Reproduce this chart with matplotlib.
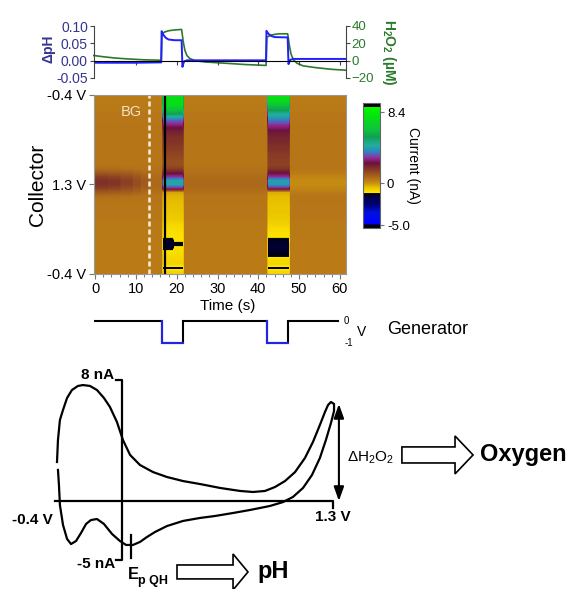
import numpy as np
import matplotlib
matplotlib.use('Agg')
import matplotlib.pyplot as plt
from matplotlib.colors import LinearSegmentedColormap
from matplotlib.patches import FancyArrow
from matplotlib.ticker import MultipleLocator

plt.rcParams['font.family'] = ['Liberation Sans', 'DejaVu Sans']
plt.rcParams['mathtext.fontset'] = 'custom'
plt.rcParams['mathtext.rm'] = 'Liberation Sans'
plt.rcParams['mathtext.it'] = 'Liberation Sans:italic'
plt.rcParams['mathtext.bf'] = 'Liberation Sans:bold'

W, H = 576, 589

# ---- top trace: pH change (left) and H2O2 (right) ----
ph_t = [-0.4, 5, 10, 16.2, 16.3, 16.7, 17.3, 18.0, 19.5, 21.2, 21.4, 21.8, 22.5, 30, 41.9,
        42.0, 42.4, 43.0, 44.0, 47.2, 47.4, 47.8, 48.5, 55, 61.5]
ph_v = [-0.006, -0.006, -0.006, -0.005, 0.085, 0.075, 0.066, 0.061, 0.059, 0.059, -0.018, -0.002,
        0.001, 0.001, 0.001, 0.086, 0.079, 0.072, 0.068, 0.067, -0.010, 0.002, 0.005, 0.005, 0.005]
h2o2_t = [-0.4, 2, 5, 8, 12, 16.2, 16.4, 17.0, 18.0, 19.5, 21.2, 21.6, 22.0, 22.5, 23.2, 24.5,
          27, 32, 37, 41.9, 42.1, 43.0, 45.0, 47.2, 47.6, 48.0, 48.6, 49.5, 51, 54, 58, 61.5]
h2o2_v = [6, 4.5, 3, 2, 1, 0.5, 31, 33, 34.5, 35.5, 36, 22, 12, 6, 2.5, 0,
          -1.5, -3, -4.5, -5.5, 27, 29.5, 31, 31, 18, 8, 1, -3, -6, -8, -10, -11]

# ---- generator potential steps ----
gen_t = [0, 16.3, 16.3, 21.5, 21.5, 42.2, 42.2, 47.3, 47.3, 59.6]
gen_v = [0, 0, -1, -1, 0, 0, -1, -1, 0, 0]
pulse_on = [16.3, 42.2]
pulse_off = [21.5, 47.3]

# ---- collector current map (nA), 45 rows = one CV sweep -0.4 -> 1.3 -> -0.4 V ----
bg_plain = [0.35, 0.35, 0.38, 0.38, 0.40, 0.40, 0.42, 0.42, 0.45,
            0.45, 0.45, 0.45, 0.45, 0.45, 0.45, 0.45, 0.45, 0.45,
            0.50, 0.55, 0.65, 0.70, 0.70, 0.65, 0.55, 0.45, 0.45,
            0.42, 0.40, 0.40, 0.40, 0.40, 0.38, 0.38, 0.38, 0.38,
            0.35, 0.35, 0.35, 0.35, 0.35, 0.35, 0.35, 0.35, 0.35]
# dark band at 1.3 V (rows 18-26) fading during the first seconds
band_t0 = [0.6, 1.0, 1.5, 1.8, 1.8, 1.5, 1.0, 0.6, 0.45]
band_t3 = [0.6, 0.95, 1.4, 1.7, 1.7, 1.4, 0.95, 0.6, 0.45]
band_t6 = [0.55, 0.9, 1.25, 1.5, 1.5, 1.25, 0.9, 0.55, 0.45]
band_t9 = [0.5, 0.8, 1.05, 1.25, 1.25, 1.05, 0.8, 0.5, 0.45]
band_t11 = [0.5, 0.65, 0.85, 1.0, 1.0, 0.85, 0.65, 0.5, 0.45]
band_late = [0.45, 0.35, 0.2, 0.1, 0.1, 0.2, 0.35, 0.45, 0.45]

pulse1a = [7.6, 7.8, 7.6, 6.6, 5.8, 4.4, 3.4, 2.8, 2.3,
           2.0, 1.85, 1.75, 1.65, 1.55, 1.45, 1.35, 1.25, 1.2,
           1.5, 2.2, 3.0, 4.3, 4.3, 2.8, -0.2, -0.4, -0.45,
           -0.5, -0.55, -0.6, -0.65, -0.7, -0.85, -0.95, -1.0, -1.05,
           -1.35, -1.4, -1.35, -1.0, -0.9, -0.85, -0.8, -1.3, -0.8]
pulse1b = [7.6, 7.8, 7.6, 6.6, 5.8, 4.4, 3.4, 2.8, 2.3,
           2.0, 1.85, 1.75, 1.65, 1.55, 1.45, 1.35, 1.25, 1.2,
           1.5, 2.2, 3.0, 4.3, 4.3, 2.8, -0.2, -0.4, -0.45,
           -0.5, -0.55, -0.6, -0.65, -0.7, -0.85, -0.95, -1.0, -1.05,
           -1.05, -1.35, -1.0, -0.95, -0.9, -0.85, -0.8, -1.3, -0.8]
pulse2 = [7.8, 7.6, 6.4, 5.8, 4.8, 4.2, 3.6, 3.0, 2.6,
          2.2, 2.05, 1.95, 1.85, 1.75, 1.65, 1.55, 1.5, 1.45,
          1.7, 2.3, 3.0, 4.2, 4.1, 2.7, -0.3, -0.45, -0.5,
          -0.55, -0.6, -0.6, -0.65, -0.7, -0.8, -0.9, -1.0, -1.05,
          -1.35, -1.4, -1.4, -1.35, -1.25, -0.9, -0.85, -1.3, -0.85]

seg_edges = [-0.4, 3, 6, 9, 11, 13, 16.3, 19.0, 21.5, 42.1, 47.4, 61.5]

# colour scale of the map
cmap_vals = [-5.3, -5.0, -4.8, -3.5, -2.6, -1.4, -1.22, -1.15, -0.5, 0.0, 0.4, 1.0, 1.8,
             2.4, 2.8, 3.2, 3.7, 4.5, 5.5, 6.3, 8.5, 9.0, 9.05, 9.5]
cmap_cols = ['#000000', '#000000', '#0000ff', '#0010e0', '#000080', '#000030', '#000000',
             '#ffe800', '#e8c000', '#c99010', '#b87818', '#a05a1c', '#803028', '#6a1040',
             '#902078', '#8040b0', '#3080c0', '#20b0a0', '#10a050', '#10c040', '#00f000',
             '#00ff00', '#000000', '#000000']
vmin, vmax = -5.3, 9.5

# ---- CV sketch (V, nA) ----
cv_up_e = [-0.400, -0.394, -0.382, -0.363, -0.338, -0.308, -0.271, -0.240, -0.197, -0.154,
           -0.111, -0.074, -0.031, 0.006, 0.050, 0.111, 0.191, 0.277, 0.376, 0.481,
           0.604, 0.727, 0.807, 0.881, 0.942, 1.004, 1.066, 1.127, 1.176, 1.219,
           1.250, 1.269, 1.287, 1.306, 1.306]
cv_up_i = [2.60, 4.07, 5.40, 6.07, 6.87, 7.40, 7.67, 7.73, 7.67, 7.40,
           6.87, 6.27, 5.27, 4.07, 3.07, 2.40, 1.93, 1.60, 1.33, 1.13,
           0.87, 0.67, 0.60, 0.67, 0.93, 1.33, 1.93, 2.87, 3.93, 5.07,
           5.93, 6.40, 6.60, 6.47, 6.00]
cv_dn_e = [1.287, 1.256, 1.219, 1.170, 1.115, 1.053, 0.992, 0.912, 0.788, 0.684,
           0.573, 0.481, 0.376, 0.277, 0.203, 0.154, 0.111, 0.068, 0.025, -0.012,
           -0.061, -0.111, -0.154, -0.191, -0.221, -0.252, -0.283, -0.314, -0.338, -0.363,
           -0.382, -0.388, -0.394]
cv_dn_i = [5.20, 4.07, 2.87, 1.73, 0.87, 0.27, -0.07, -0.33, -0.60, -0.80,
           -1.00, -1.13, -1.33, -1.67, -2.07, -2.40, -2.73, -2.93, -2.93, -2.67,
           -2.20, -1.53, -1.20, -1.27, -1.53, -2.13, -2.67, -2.87, -2.53, -1.60,
           -0.27, 1.07, 2.07]


def px_axes(fig, x0, y0, x1, y1):
    return fig.add_axes([x0 / W, 1 - y1 / H, (x1 - x0) / W, (y1 - y0) / H])


def with_band(band):
    col = list(bg_plain)
    col[18:27] = band
    return col


seg_cols = [with_band(band_t0), with_band(band_t3), with_band(band_t6), with_band(band_t9),
            with_band(band_t11), bg_plain, pulse1a, pulse1b, bg_plain, pulse2,
            with_band(band_late)]

fig = plt.figure(figsize=(W / 100, H / 100), dpi=100)
navy = '#35358f'
dgreen = '#2b7a2b'

# ---------- top panel ----------
ax_top = px_axes(fig, 93.5, 26, 346, 78)
ax_h = ax_top.twinx()
ax_top.set_zorder(ax_h.get_zorder() + 1)
ax_top.patch.set_visible(False)
ax_h.plot(h2o2_t, h2o2_v, color=dgreen, lw=1.2)
ax_top.plot(ph_t, ph_v, color='#1f1fff', lw=1.4)
ax_top.set_xlim(-0.4, 61.5)
ax_top.set_ylim(-0.05, 0.10)
ax_h.set_ylim(-20, 40)
ax_top.set_yticks([-0.05, 0, 0.05, 0.10])
ax_top.set_yticklabels(['-0.05', '0.00', '0.05', '0.10'])
ax_h.set_yticks([-20, 0, 20, 40])
ax_top.set_xticks([10, 20, 30, 40, 50, 60])
ax_top.set_xticklabels([])
ax_top.spines['bottom'].set_position(('data', 0))
for s in ['top', 'right']:
    ax_top.spines[s].set_visible(False)
for s in ['top', 'left', 'bottom']:
    ax_h.spines[s].set_visible(False)
ax_top.spines['left'].set_color('#444444')
ax_h.spines['right'].set_color('#444444')
ax_top.tick_params(axis='y', colors='#444444', labelcolor=navy, labelsize=10, length=3, pad=1)
ax_top.tick_params(axis='x', length=3, colors='#444444')
ax_h.tick_params(axis='y', colors='#444444', labelcolor=dgreen, labelsize=9.5, length=3, pad=1)
ax_top.text(-0.18, 0.56, 'ΔpH', transform=ax_top.transAxes, rotation=90, color=navy,
            fontsize=10, fontweight='bold', ha='center', va='center')
ax_top.text(1.172, 0.5, r'H$_\mathbf{2}$O$_\mathbf{2}$ (µM)', transform=ax_top.transAxes,
            rotation=270, color=dgreen, fontsize=10, fontweight='bold', ha='center', va='center')

# ---------- collector map ----------
ncol = 248
t_centers = -0.4 + (np.arange(ncol) + 0.5) * (61.9 / ncol)
seg_idx = np.clip(np.searchsorted(seg_edges, t_centers, side='right') - 1, 0, len(seg_cols) - 1)
Z = np.array(seg_cols)[seg_idx].T

cmap = LinearSegmentedColormap.from_list(
    'collector', [((v - vmin) / (vmax - vmin), c) for v, c in zip(cmap_vals, cmap_cols)], N=512)

ax_hm = px_axes(fig, 93.5, 95, 346, 274)
im = ax_hm.imshow(Z, aspect='auto', extent=[-0.4, 61.5, 1, 0], cmap=cmap, vmin=vmin, vmax=vmax,
                  interpolation='bilinear', interpolation_stage='data')
ax_hm.axvline(13.3, color='#f8f0e0', lw=1.8, ls=(0, (2.0, 1.2)))
ax_hm.axvline(17.2, color='k', lw=1.6)
ax_hm.text(8.8, 0.095, 'BG', color='#f2e2c4', fontsize=10.5, ha='center', va='center')
ax_hm.set_xlim(-0.4, 61.5)
ax_hm.set_ylim(1, 0)
ax_hm.set_xticks([0, 10, 20, 30, 40, 50, 60])
ax_hm.xaxis.set_minor_locator(MultipleLocator(2))
ax_hm.set_yticks([0, 0.5, 1])
ax_hm.set_yticklabels(['-0.4 V', '1.3 V', '-0.4 V'])
ax_hm.tick_params(axis='both', which='major', direction='out', length=3.5, width=0.8,
                  color='#777777', labelsize=10.5, pad=2)
ax_hm.tick_params(axis='x', which='minor', direction='out', length=2.5, width=0.7, color='#777777')
for s in ax_hm.spines.values():
    s.set_color('#999999')
    s.set_linewidth(0.8)
ax_hm.text(0.53, -0.18, 'Time (s)', transform=ax_hm.transAxes, fontsize=11,
           ha='center', va='center')
ax_hm.text(-0.223, 0.5, 'Collector', transform=ax_hm.transAxes, fontsize=15, rotation=90,
           ha='center', va='center')

cax = px_axes(fig, 363, 103, 380, 228)
cb = fig.colorbar(im, cax=cax, ticks=[8.4, 0, -5.0])
cb.ax.set_yticklabels(['8.4', '0', '-5.0'])
cb.ax.tick_params(length=3, width=0.8, color='#777777', labelsize=9.5, pad=2)
cb.outline.set_edgecolor('#666666')
cb.outline.set_linewidth(0.8)
cax.text(2.95, 0.5, 'Current (nA)', transform=cax.transAxes, rotation=270, fontsize=10,
         ha='center', va='center')

# ---------- generator ----------
ax_gen = px_axes(fig, 93.5, 315, 346, 348)
ax_gen.set_xlim(-0.4, 61.5)
ax_gen.set_ylim(-1.24, 0.26)
ax_gen.axis('off')
ax_gen.plot(gen_t, gen_v, color='k', lw=1.5, solid_joinstyle='miter')
for on, off in zip(pulse_on, pulse_off):
    ax_gen.plot([on, on, off], [0, -1, -1], color='#2323e6', lw=1.5, solid_joinstyle='miter')
ax_gen.text(61.5, 0, '0', fontsize=7, ha='center', va='center', clip_on=False)
ax_gen.text(62.3, -1, '-1', fontsize=7, ha='center', va='center', clip_on=False)
ax_gen.text(65.3, -0.5, 'V', fontsize=10, ha='center', va='center', clip_on=False)
ax_gen.text(71.5, -0.42, 'Generator', fontsize=13, ha='left', va='center', clip_on=False)

# ---------- CV sketch ----------
ax_cv = fig.add_axes([0, 0, 1, 229 / H])
ax_cv.set_xlim(-0.751, 2.796)
ax_cv.set_ylim(-5.867, 9.4)
ax_cv.axis('off')
lw = 1.6
ax_cv.plot(cv_up_e + cv_dn_e, cv_up_i + cv_dn_i, color='k', lw=lw, solid_joinstyle='round')
# potential axis and current bar
ax_cv.plot([-0.412, 1.30, 1.30], [0, 0, -0.47], color='k', lw=lw)
ax_cv.plot([-0.037, 0.0, 0.0, -0.037], [8.07, 8.07, -3.93, -3.93], color='k', lw=lw)
ax_cv.plot([0.056, 0.056], [-2.27, -3.8], color='k', lw=lw)
ax_cv.text(-0.05, 8.4, '8 nA', fontsize=11, fontweight='bold', ha='right', va='center')
ax_cv.text(-0.043, -4.2, '-5 nA', fontsize=11, fontweight='bold', ha='right', va='center')
ax_cv.text(-0.425, -1.27, '-0.4 V', fontsize=11, fontweight='bold', ha='right', va='center')
ax_cv.text(1.30, -1.07, '1.3 V', fontsize=11, fontweight='bold', ha='center', va='center')
ax_cv.text(0.037, -4.93, 'E', fontsize=12, fontweight='bold', ha='left', va='center')
ax_cv.text(0.099, -5.33, 'p QH', fontsize=9, fontweight='bold', ha='left', va='center')
ax_cv.add_patch(FancyArrow(0.339, -4.73, 0.437, 0, width=0.93, head_width=2.4, head_length=0.092,
                           length_includes_head=True, fc='white', ec='k', lw=1.2))
ax_cv.text(0.832, -4.73, 'pH', fontsize=17, fontweight='bold', ha='left', va='center')
ax_cv.annotate('', xy=(1.336, 6.47), xytext=(1.336, 0.0),
               arrowprops=dict(arrowstyle='<|-|>,head_length=0.7,head_width=0.25',
                               mutation_scale=12, lw=1.5, color='k', shrinkA=0, shrinkB=0))
ax_cv.text(1.386, 2.87, 'ΔH$_2$O$_2$', fontsize=11, ha='left', va='center')
ax_cv.add_patch(FancyArrow(1.724, 3.07, 0.438, 0, width=1.07, head_width=2.53, head_length=0.111,
                           length_includes_head=True, fc='white', ec='k', lw=1.2))
ax_cv.text(2.205, 3.07, 'Oxygen', fontsize=17, fontweight='bold', ha='left', va='center')

fig.savefig('out.png', dpi=100)
